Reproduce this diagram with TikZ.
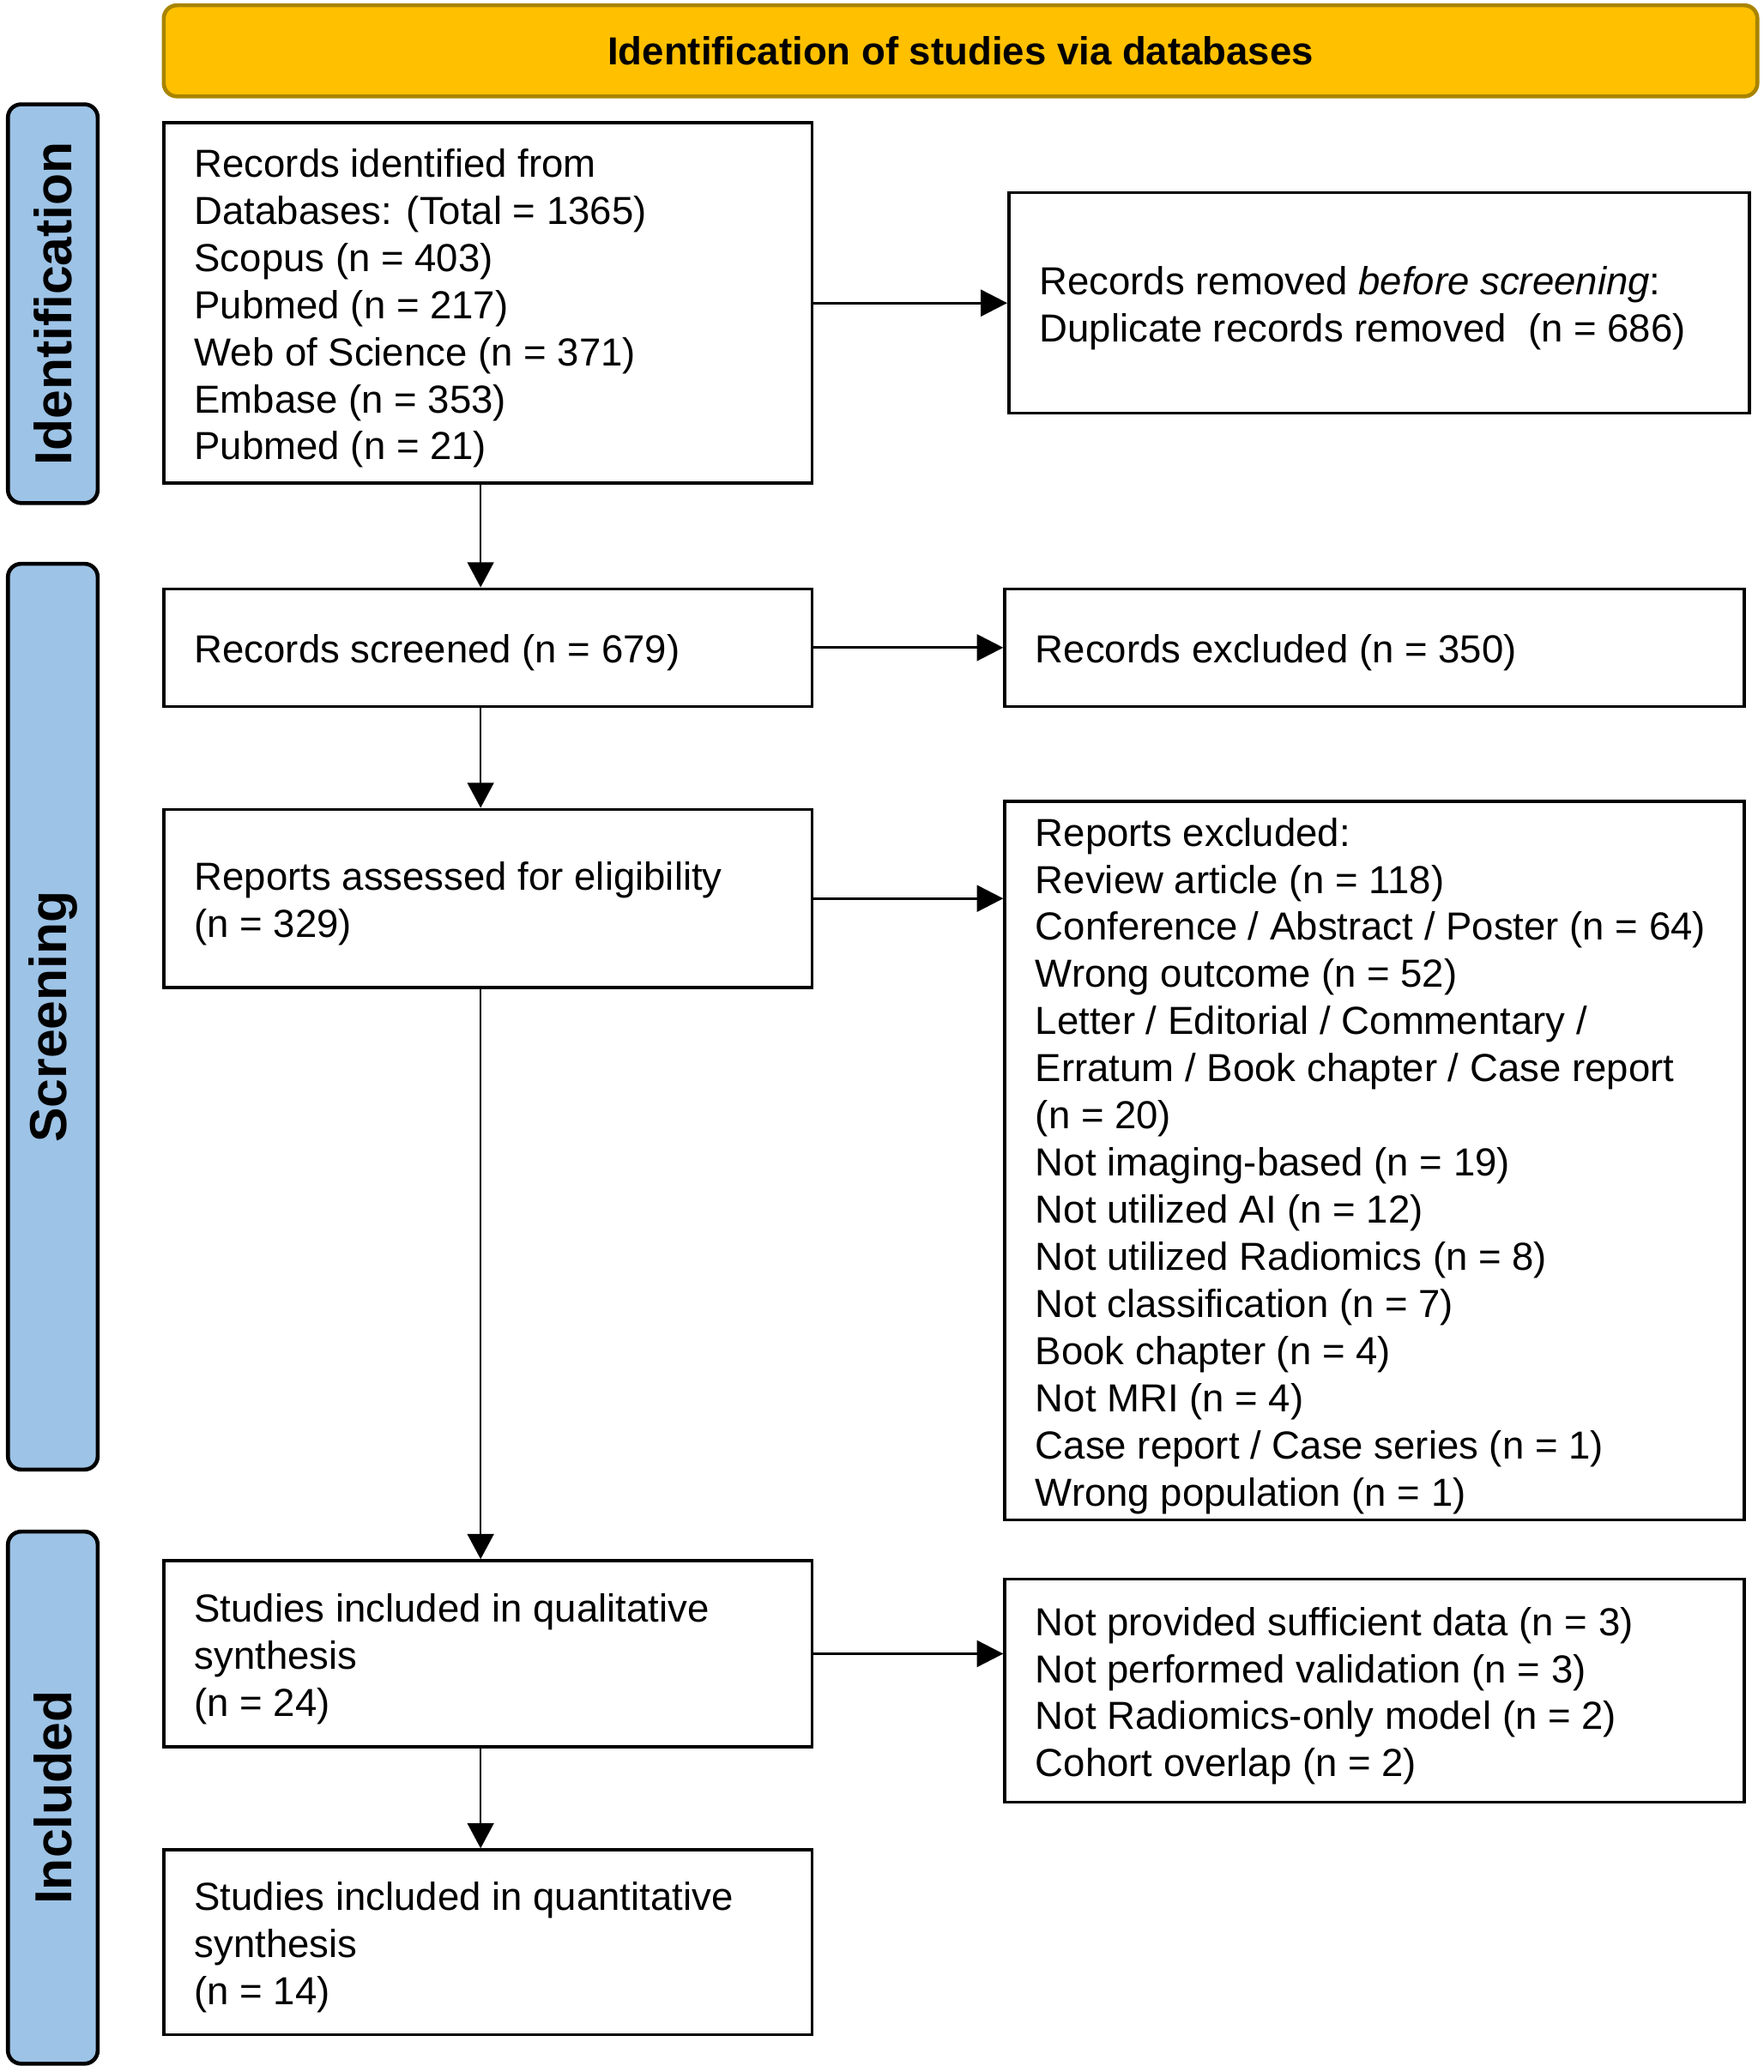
\documentclass[tikz,border=0pt]{standalone}
\usepackage{fontspec}
\setmainfont{Liberation Sans}
\usetikzlibrary{arrows.meta}
\definecolor{hdrc}{HTML}{FFC000}
\definecolor{hdrline}{HTML}{A88400}
\definecolor{sidec}{HTML}{9DC3E6}
\begin{document}
\begin{tikzpicture}[x=0.5pt,y=-0.5pt,
  box/.style={draw=black, line width=1.15pt, fill=white, inner sep=0pt},
  txt/.style={anchor=west, align=left, inner sep=0pt, font=\fontsize{14.8pt}{17.85pt}\selectfont},
  sidebar/.style={draw=black, line width=1.5pt, fill=sidec, rounded corners=5pt, minimum width=34pt, inner sep=0pt},
  sidetxt/.style={rotate=90, inner sep=0pt, font=\bfseries\fontsize{19.7pt}{22pt}\selectfont},
  harr/.style={line width=1pt, -{Triangle[length=10pt,width=10pt]}},
  varr/.style={line width=0.65pt, -{Triangle[length=9.5pt,width=10pt]}}]
\useasboundingbox (0,0) rectangle (1336,1569.3);

% header
\node[draw=hdrline, line width=1.5pt, fill=hdrc, rounded corners=5pt, minimum width=603.5pt, minimum height=34.5pt, inner sep=0pt,
      font=\bfseries\fontsize{14.8pt}{17.85pt}\selectfont] (hdr) at (727.5,38.5) {Identification of studies via databases};

% side bars
\node[sidebar, minimum height=151pt] (s1) at (40,230) {};
\node[sidetxt] (s1t) at (s1.center) {Identification};
\node[sidebar, minimum height=343pt] (s2) at (40,770) {};
\node[sidetxt] (s2t) at (s2.center) {Screening};
\node[sidebar, minimum height=201.5pt] (s3) at (40,1361.5) {};
\node[sidetxt] (s3t) at (s3.center) {Included};

% left boxes
\node[box, minimum width=245.5pt, minimum height=136.5pt] (b1) at (369.5,229.5) {};
\node[txt] (t1) at ([xshift=12pt,yshift=-2pt]b1.west) {Records identified from\\Databases: (Total = 1365)\\Scopus (n = 403)\\Pubmed (n = 217)\\Web of Science (n = 371)\\Embase (n = 353)\\Pubmed (n = 21)};

\node[box, minimum width=245.5pt, minimum height=44.5pt] (b3) at (369.5,490.5) {};
\node[txt] (t3) at ([xshift=12pt,yshift=-2pt]b3.west) {Records screened (n = 679)};

\node[box, minimum width=245.5pt, minimum height=67.5pt] (b5) at (369.5,680.5) {};
\node[txt] (t5) at ([xshift=12pt,yshift=-2pt]b5.west) {Reports assessed for eligibility\\(n = 329)};

\node[box, minimum width=245.5pt, minimum height=70.5pt] (b7) at (369.5,1252.5) {};
\node[txt] (t7) at ([xshift=12pt,yshift=-2pt]b7.west) {Studies included in qualitative\\synthesis\\(n = 24)};

\node[box, minimum width=245.5pt, minimum height=70pt] (b9) at (369.5,1471) {};
\node[txt] (t9) at ([xshift=12pt,yshift=-2pt]b9.west) {Studies included in quantitative\\synthesis\\(n = 14)};

% right boxes
\node[box, minimum width=280.5pt, minimum height=83.5pt] (b2) at (1044.5,229.5) {};
\node[txt] (t2) at ([xshift=12pt,yshift=-2pt]b2.west) {Records removed \textit{before screening}:\\Duplicate records removed\ \ (n = 686)};

\node[box, minimum width=280pt, minimum height=44.5pt] (b4) at (1041,490.5) {};
\node[txt] (t4) at ([xshift=12pt,yshift=-2pt]b4.west) {Records excluded (n = 350)};

\node[box, minimum width=280pt, minimum height=272pt] (b6) at (1041,879) {};
\node[txt] (t6) at ([xshift=12pt,yshift=-2pt]b6.west) {Reports excluded:\\Review article (n = 118)\\Conference / Abstract / Poster (n = 64)\\Wrong outcome (n = 52)\\Letter / Editorial / Commentary /\\Erratum / Book chapter / Case report\\(n = 20)\\Not imaging-based (n = 19)\\Not utilized AI (n = 12)\\Not utilized Radiomics (n = 8)\\Not classification (n = 7)\\Book chapter (n = 4)\\Not MRI (n = 4)\\Case report / Case series (n = 1)\\Wrong population (n = 1)};

\node[box, minimum width=280pt, minimum height=84.5pt] (b8) at (1041,1280.5) {};
\node[txt] (t8) at ([xshift=12pt,yshift=-2pt]b8.west) {Not provided sufficient data (n = 3)\\Not performed validation (n = 3)\\Not Radiomics-only model (n = 2)\\Cohort overlap (n = 2)};

% horizontal arrows
\draw[harr] (b1.east) -- (b1.east -| b2.west);
\draw[harr] (b3.east) -- (b3.east -| b4.west);
\draw[harr] (b5.east) -- (b5.east -| b6.west);
\draw[harr] (b7.east) -- (b7.east -| b8.west);

% vertical arrows
\draw[varr] ([xshift=-2.75pt]b1.south) -- ([xshift=-2.75pt]b3.north);
\draw[varr] ([xshift=-2.75pt]b3.south) -- ([xshift=-2.75pt]b5.north);
\draw[varr] ([xshift=-2.75pt]b5.south) -- ([xshift=-2.75pt]b7.north);
\draw[varr] ([xshift=-2.75pt]b7.south) -- ([xshift=-2.75pt]b9.north);
\end{tikzpicture}
\end{document}
